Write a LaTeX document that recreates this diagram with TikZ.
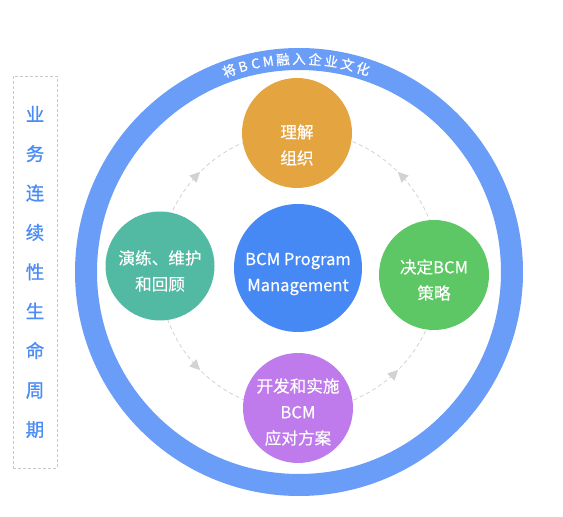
\documentclass[tikz,border=0pt]{standalone}
\usepackage{fontspec}
\setmainfont{Noto Sans CJK SC}
\newfontfamily\ringfont[FakeBold=0.6]{Noto Sans CJK SC}
\newfontfamily\nodefont[FakeBold=0.3]{Noto Sans CJK SC}
\newfontfamily\sidefont[FakeBold=0.8]{Noto Sans CJK SC}
\usetikzlibrary{arrows.meta,decorations.markings}
\definecolor{ringblue}{HTML}{6A9DF7}
\definecolor{orangec}{HTML}{E4A43F}
\definecolor{centerblue}{HTML}{4689F5}
\definecolor{tealc}{HTML}{52B9A2}
\definecolor{greenc}{HTML}{5DC765}
\definecolor{purplec}{HTML}{BF7AEC}
\definecolor{sideblue}{HTML}{4A8BF5}
\definecolor{flowgray}{HTML}{D2D2D2}
\definecolor{boxgray}{HTML}{C8C8C8}
\begin{document}
\begin{tikzpicture}[x=1pt,y=1pt,
  bubble/.style={circle, inner sep=0pt},
  btext/.style={inner sep=0pt, text=white, align=center, font=\nodefont\fontsize{16.6}{26}\selectfont},
  flow/.style={draw=flowgray, line width=0.8pt, dash pattern=on 4pt off 3pt, postaction={decorate},
    decoration={markings, mark=at position 0.5 with {\arrow[flowgray,solid]{Triangle[length=10pt,width=10pt]}}}},
  ringtext/.style={text=white, font=\ringfont\fontsize{13.5}{13.5}\selectfont, anchor=base, inner sep=0pt},
  sidebox/.style={draw=boxgray, line width=0.8pt, dash pattern=on 3pt off 2pt, text=sideblue,
    align=center, font=\sidefont\fontsize{18.5}{39.4}\selectfont, minimum width=44pt, minimum height=392pt, inner sep=0pt}
]
\useasboundingbox (0,0) rectangle (563,517);
\coordinate (c) at (299,246);
\coordinate (rc) at (299,245);
% outer ring
\draw[ringblue, line width=22pt] (rc) circle[radius=213];
\foreach \ch/\ang in {将/109.1, B/105.25, C/101.76, M/98.31, 融/94.35, 入/90, 企/85.65, 业/81.28, 文/76.85, 化/72.49}
  \node[ringtext, rotate=\ang-90] at ([shift={(\ang:208)}]rc) {\ch};
% dashed cycle
\draw[flow] ([shift={(180:140)}]c) arc[start angle=180, end angle=90, radius=140];
\draw[flow] ([shift={(0:140)}]c) arc[start angle=0, end angle=90, radius=140];
\draw[flow] ([shift={(180:140)}]c) arc[start angle=180, end angle=270, radius=140];
\draw[flow] ([shift={(270:140)}]c) arc[start angle=270, end angle=360, radius=140];
% nodes
\node[bubble, fill=orangec, minimum size=110pt] (top) at (297,384) {};
\node[bubble, fill=centerblue, minimum size=128pt] (mid) at (298,249) {};
\node[bubble, fill=tealc, minimum size=109pt] (left) at (160,251) {};
\node[bubble, fill=greenc, minimum size=110pt] (right) at (434,242) {};
\node[bubble, fill=purplec, minimum size=110pt] (bottom) at (298,109) {};
\node[btext] (topt) at ([yshift=-12pt]top) {理解\\组织};
\node[btext] (midt) at ([yshift=-6pt]mid) {BCM Program\\Management};
\node[btext] (leftt) at ([yshift=-5pt]left) {演练、维护\\和回顾};
\node[btext] (rightt) at ([yshift=-5pt]right) {决定BCM\\策略};
\node[btext] (bottomt) at ([yshift=-4pt]bottom) {开发和实施\\BCM\\应对方案};
% side label
\node[sidebox] (side) at (35,245) {业\\务\\连\\续\\性\\生\\命\\周\\期};
\end{tikzpicture}
\end{document}
